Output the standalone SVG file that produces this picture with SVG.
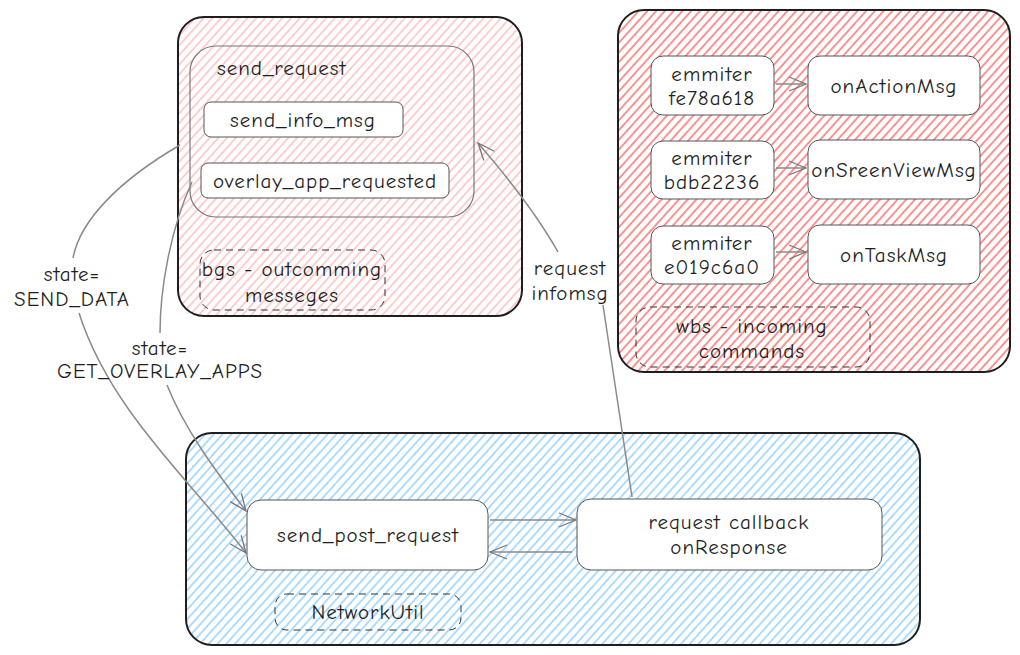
<svg xmlns="http://www.w3.org/2000/svg" width="1020" height="655" viewBox="0 0 1020 655">
<defs>
<pattern id="hPink" patternUnits="userSpaceOnUse" width="6.5" height="8" patternTransform="rotate(42)">
<line x1="1" y1="0" x2="1" y2="8" stroke="#ffc9c9" stroke-width="1.8"/>
</pattern>
<pattern id="hRed" patternUnits="userSpaceOnUse" width="6.5" height="8" patternTransform="rotate(42)">
<line x1="1" y1="0" x2="1" y2="8" stroke="#ff8787" stroke-width="1.8"/>
</pattern>
<pattern id="hBlue" patternUnits="userSpaceOnUse" width="6.5" height="8" patternTransform="rotate(42)">
<line x1="1" y1="0" x2="1" y2="8" stroke="#a5d8ff" stroke-width="1.8"/>
</pattern>
<marker id="arr" viewBox="0 0 20 20" refX="19" refY="10" markerWidth="20" markerHeight="20" markerUnits="userSpaceOnUse" orient="auto">
<path d="M2,3 L19,10 L2,17" fill="none" stroke="#777" stroke-width="1.3"/>
</marker>
</defs>
<style>
.outer{stroke:#1e1e1e;stroke-width:2}
.node{fill:#fff;stroke:#555;stroke-width:1}
.inner{fill:none;stroke:#777;stroke-width:1.2}
.dash{fill:none;stroke:#333;stroke-width:1;stroke-dasharray:7 5}
text{font-family:"Comic Neue","Liberation Sans",sans-serif;font-size:21px;letter-spacing:1px;fill:#1e1e1e;text-anchor:middle}
.conn{fill:none;stroke:#8a8a8a;stroke-width:1.5}
</style>
<rect width="1020" height="655" fill="#fff"/>

<g id="bgs">
<rect class="outer" x="178" y="17" width="344" height="299" rx="26" fill="url(#hPink)"/>
<rect class="inner" x="190" y="46" width="284" height="171" rx="26"/>
<text x="217" y="75" style="text-anchor:start">send_request</text>
<rect class="dash" x="200" y="250" width="185" height="60" rx="14"/>
<text x="292" y="276">bgs - outcomming</text>
<text x="292" y="302">messeges</text>
</g>
<g id="send_info_msg">
<rect class="node" x="204" y="102" width="199" height="35" rx="7"/>
<text x="303" y="127">send_info_msg</text>
</g>
<g id="overlay_app_requested">
<rect class="node" x="201" y="163" width="248" height="35" rx="7"/>
<text x="325" y="188">overlay_app_requested</text>
</g>

<g id="wbs">
<rect class="outer" x="618" y="10" width="392" height="362" rx="26" fill="url(#hRed)"/>
<rect class="dash" x="636" y="307" width="234" height="60" rx="14"/>
<text x="752" y="333">wbs - incoming</text>
<text x="752" y="358">commands</text>
</g>
<g id="emmiter1">
<rect class="node" x="651" y="56" width="123" height="59" rx="12"/>
<text x="712" y="81">emmiter</text>
<text x="712" y="105">fe78a618</text>
</g>
<g id="emmiter2">
<rect class="node" x="651" y="141" width="123" height="58" rx="12"/>
<text x="712" y="165">emmiter</text>
<text x="712" y="189">bdb22236</text>
</g>
<g id="emmiter3">
<rect class="node" x="651" y="226" width="123" height="58" rx="12"/>
<text x="712" y="250">emmiter</text>
<text x="712" y="274">e019c6a0</text>
</g>
<g id="onActionMsg">
<rect class="node" x="808" y="56" width="172" height="59" rx="12"/>
<text x="894" y="93">onActionMsg</text>
</g>
<g id="onSreenViewMsg">
<rect class="node" x="808" y="140" width="172" height="59" rx="12"/>
<text x="894" y="177">onSreenViewMsg</text>
</g>
<g id="onTaskMsg">
<rect class="node" x="808" y="225" width="172" height="59" rx="12"/>
<text x="894" y="262">onTaskMsg</text>
</g>

<g id="network">
<rect class="outer" x="186" y="433" width="734" height="212" rx="26" fill="url(#hBlue)"/>
<rect class="dash" x="275" y="594" width="186" height="36" rx="12"/>
<text x="368" y="619">NetworkUtil</text>
</g>
<g id="send_post_request">
<rect class="node" x="247" y="500" width="241" height="70" rx="14"/>
<text x="368" y="542">send_post_request</text>
</g>
<g id="request_callback">
<rect class="node" x="577" y="499" width="305" height="71" rx="14"/>
<text x="729" y="529">request callback</text>
<text x="729" y="554">onResponse</text>
</g>

<g id="connectors">
<path class="conn" d="M776,84 L806,84" marker-end="url(#arr)"/>
<path class="conn" d="M776,168 L806,168" marker-end="url(#arr)"/>
<path class="conn" d="M776,252 L806,252" marker-end="url(#arr)"/>
<path class="conn" d="M490,520 L576,520" marker-end="url(#arr)"/>
<path class="conn" d="M572,552 L490,552" marker-end="url(#arr)"/>
<path class="conn" d="M180,145 C120,180 80,220 73,258"/>
<path class="conn" d="M79,313 C110,410 190,480 246,553" marker-end="url(#arr)"/>
<path class="conn" d="M192,182 C170,230 160,290 160,333"/>
<path class="conn" d="M167,385 C185,430 215,470 246,511" marker-end="url(#arr)"/>
<path class="conn" d="M632,497 C620,420 610,350 603,305"/>
<path class="conn" d="M558,252 C540,220 510,180 478,143" marker-end="url(#arr)"/>
<text x="72" y="281">state=</text>
<text x="72" y="306">SEND_DATA</text>
<text x="160" y="355">state=</text>
<text x="160" y="378">GET_OVERLAY_APPS</text>
<text x="570" y="275">request</text>
<text x="570" y="300">infomsg</text>
</g>
</svg>
